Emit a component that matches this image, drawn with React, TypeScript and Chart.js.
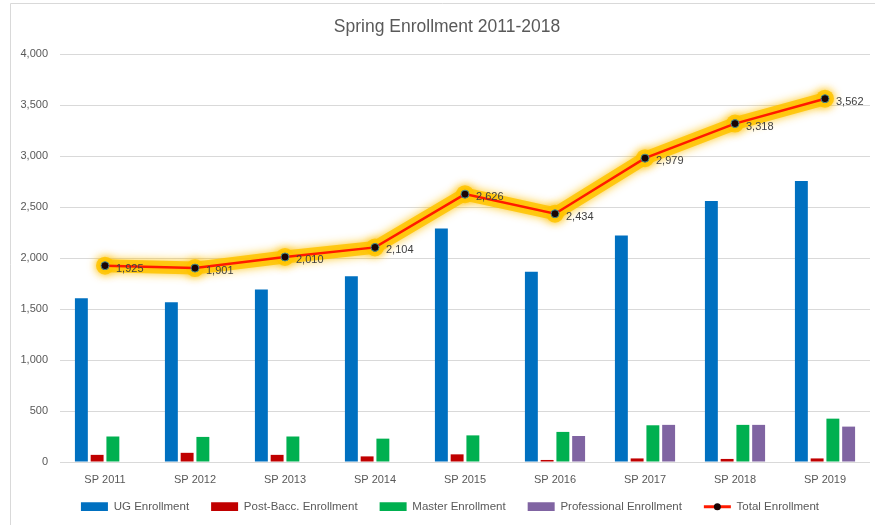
import React, { useEffect, useRef } from "react";
import { Chart, registerables } from "chart.js";

Chart.register(...registerables);

const categories = ["SP 2011", "SP 2012", "SP 2013", "SP 2014", "SP 2015", "SP 2016", "SP 2017", "SP 2018", "SP 2019"];
const ugEnrollment = [1605, 1565, 1690, 1820, 2290, 1864, 2220, 2560, 2755];
const postBaccEnrollment = [70, 90, 70, 55, 75, 20, 35, 30, 35];
const masterEnrollment = [250, 246, 250, 229, 261, 295, 360, 364, 425];
const professionalEnrollment = [0, 0, 0, 0, 0, 255, 364, 364, 347];
const totalEnrollment = [1925, 1901, 2010, 2104, 2626, 2434, 2979, 3318, 3562];
const yTicks = [0, 500, 1000, 1500, 2000, 2500, 3000, 3500, 4000];

const FONT = "'Liberation Sans', Arial, sans-serif";
const TEXT = "#595959";
const TITLE_DX = 12;
const LEGEND_DX = 15;
const LEGEND_DY = -10;

const glowPlugin = {
  id: "glow",
  beforeDatasetDraw(chart: any, args: any) {
    if (args.meta.type !== "line") return;
    const pts = args.meta.data;
    const ctx = chart.ctx;
    ctx.save();
    ctx.shadowColor = "#FFC000";
    ctx.shadowBlur = 10;
    ctx.strokeStyle = "rgba(255,196,0,0.85)";
    ctx.lineWidth = 13;
    ctx.lineJoin = "round";
    ctx.lineCap = "round";
    ctx.beginPath();
    pts.forEach((p: any, i: number) => {
      if (i === 0) ctx.moveTo(p.x, p.y);
      else ctx.lineTo(p.x, p.y);
    });
    ctx.stroke();
    ctx.fillStyle = "rgba(255,196,0,0.85)";
    pts.forEach((p: any) => {
      ctx.beginPath();
      ctx.arc(p.x, p.y, 9, 0, Math.PI * 2);
      ctx.fill();
    });
    ctx.restore();
  },
};

function shiftDraw(obj: any, dx: number, dy: number) {
  if (!obj || obj.__shifted) return;
  const od = obj.draw;
  obj.draw = function (...a: any[]) {
    const c = this.ctx;
    c.save();
    c.translate(dx, dy);
    od.apply(this, a);
    c.restore();
  };
  obj.__shifted = true;
}

const layoutPlugin = {
  id: "fixLayout",
  beforeLayout(chart: any) {
    const lg = chart.legend;
    if (lg && !lg.__patched) {
      const orig = lg.fit;
      lg.fit = function () {
        orig.call(this);
        this.height = 32;
      };
      lg.__patched = true;
    }
    shiftDraw(chart.legend, LEGEND_DX, LEGEND_DY);
    shiftDraw(chart.titleBlock, TITLE_DX, 0);
  },
};

const labelPlugin = {
  id: "lineLabels",
  afterDatasetsDraw(chart: any) {
    const ctx = chart.ctx;
    chart.data.datasets.forEach((ds: any, di: number) => {
      if (ds.type !== "line") return;
      const meta = chart.getDatasetMeta(di);
      ctx.save();
      ctx.font = `11px ${FONT}`;
      ctx.fillStyle = "#404040";
      ctx.textAlign = "left";
      ctx.textBaseline = "middle";
      meta.data.forEach((p: any, i: number) => {
        ctx.fillText(ds.data[i].toLocaleString("en-US"), p.x + 11, p.y + 3);
      });
      ctx.restore();
    });
  },
  afterDraw(chart: any) {
    const lg = chart.legend;
    if (!lg || !lg.legendHitBoxes) return;
    const ctx = chart.ctx;
    lg.legendItems.forEach((item: any, i: number) => {
      if (item.pointStyle !== "line") return;
      const hb = lg.legendHitBoxes[i];
      const cx = hb.left + 27 / 2 + LEGEND_DX;
      const cy = hb.top + hb.height / 2 + LEGEND_DY;
      ctx.save();
      ctx.beginPath();
      ctx.arc(cx, cy, 3.5, 0, Math.PI * 2);
      ctx.fillStyle = "#1a0505";
      ctx.fill();
      ctx.restore();
    });
  },
  beforeDraw(chart: any) {
    const ctx = chart.ctx;
    ctx.save();
    ctx.strokeStyle = "#d9d9d9";
    ctx.lineWidth = 1;
    ctx.beginPath();
    ctx.moveTo(10.5, chart.height);
    ctx.lineTo(10.5, 3.5);
    ctx.lineTo(chart.width, 3.5);
    ctx.stroke();
    ctx.restore();
  },
};

export default function App() {
  const ref = useRef<HTMLCanvasElement | null>(null);
  useEffect(() => {
    if (!ref.current) return;
    const barCommon = { order: 1, borderWidth: 0 };
    const chart = new Chart(ref.current, {
      type: "bar",
      data: {
        labels: categories,
        datasets: [
          { ...barCommon, label: "UG Enrollment", data: ugEnrollment, backgroundColor: "#0070C0" },
          { ...barCommon, label: "Post-Bacc. Enrollment", data: postBaccEnrollment, backgroundColor: "#C00000" },
          { ...barCommon, label: "Master Enrollment", data: masterEnrollment, backgroundColor: "#00B050" },
          { ...barCommon, label: "Professional Enrollment", data: professionalEnrollment, backgroundColor: "#8064A2" },
          {
            type: "line",
            order: 0,
            label: "Total Enrollment",
            data: totalEnrollment,
            borderColor: "#FF1A00",
            backgroundColor: "#FF1A00",
            borderWidth: 2.5,
            pointRadius: 4,
            pointBackgroundColor: "#1a0505",
            pointBorderColor: "#4a8a8a",
            pointBorderWidth: 1,
            tension: 0,
          } as any,
        ],
      },
      options: {
        responsive: true,
        maintainAspectRatio: false,
        animation: false,
        layout: { padding: { left: 0, right: 5, top: 0, bottom: 4 } },
        datasets: { bar: { categoryPercentage: 0.7, barPercentage: 0.82 } } as any,
        plugins: {
          title: {
            display: true,
            text: "Spring Enrollment 2011-2018",
            color: TEXT,
            font: { family: FONT, size: 17.5, weight: "normal" },
            padding: { top: 17, bottom: 16 },
          },
          legend: {
            position: "bottom",
            labels: {
              color: TEXT,
              font: { family: FONT, size: 11.5 },
              usePointStyle: true,
              pointStyleWidth: 27,
              boxHeight: 9,
              padding: 22,
              sort: (a: any, b: any) => a.datasetIndex - b.datasetIndex,
              generateLabels: (chart: any) => {
                const items = Chart.defaults.plugins.legend.labels.generateLabels(chart);
                return items.map((it: any) => {
                  if (it.text === "Total Enrollment") {
                    return { ...it, pointStyle: "line", strokeStyle: "#FF1A00", lineWidth: 3 };
                  }
                  return { ...it, pointStyle: "rect", lineWidth: 0 };
                });
              },
            },
          },
          tooltip: { enabled: false },
        },
        scales: {
          x: {
            grid: { display: false, drawTicks: false },
            border: { display: false },
            afterFit: (scale: any) => {
              scale.height = 27;
            },
            ticks: { color: TEXT, font: { family: FONT, size: 11 }, padding: 11 },
          },
          y: {
            min: 0,
            max: 4000,
            afterBuildTicks: (scale: any) => {
              scale.ticks = yTicks.map((v) => ({ value: v }));
            },
            afterFit: (scale: any) => {
              scale.width = 60;
            },
            grid: { color: "#d9d9d9", drawTicks: false },
            border: { display: false },
            ticks: {
              color: TEXT,
              font: { family: FONT, size: 11 },
              padding: 12,
              callback: (v: any) => Number(v).toLocaleString("en-US"),
            },
          },
        },
      },
      plugins: [glowPlugin, layoutPlugin, labelPlugin],
    } as any);
    return () => chart.destroy();
  }, []);
  return (
    <div style={{ position: "absolute", left: 0, top: 0, width: 875, height: 525 }}>
      <canvas ref={ref} />
    </div>
  );
}
